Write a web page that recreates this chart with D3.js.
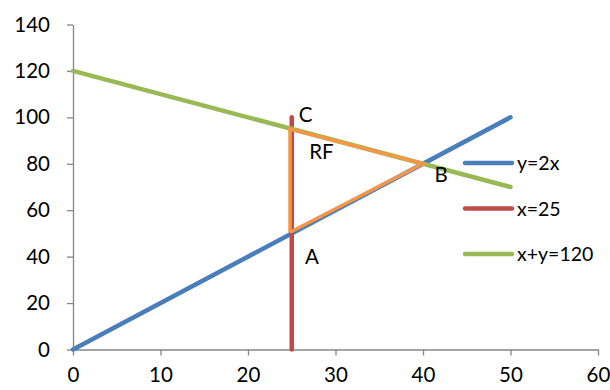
<!DOCTYPE html>
<html><head><meta charset="utf-8">
<script src="https://cdn.jsdelivr.net/npm/d3@7"></script>
<style>body{margin:0;background:#fff}svg{font-family:Lato,"Open Sans",sans-serif}</style>
</head><body><svg width="610" height="390"></svg>
<script>
const xTicks = [0,10,20,30,40,50,60];
const yTicks = [0,20,40,60,80,100,120,140];
const seriesNames = ["y=2x","x=25","x+y=120"];
const seriesColors = ["#4A7EBB","#BE4B48","#98B954"];
const lineY2x = [[0,0],[50,100]];
const lineX25 = [[25,0],[25,100]];
const lineXY120 = [[0,120],[50,70]];
const region = [[24.8,50.5],[40,80],[24.8,95],[24.8,50.5]];
const pointLabels = [{t:"C",x:25.8,y:98},{t:"RF",x:27,y:82},{t:"B",x:41.3,y:72},{t:"A",x:26.5,y:37}];

const svg = d3.select("svg");
const x = d3.scaleLinear().domain([0,60]).range([73,598]);
const y = d3.scaleLinear().domain([0,140]).range([349.5,24.5]);

const ax = svg.append("g").attr("transform","translate(0,349.5)")
  .call(d3.axisBottom(x).tickValues(xTicks).tickSizeInner(6).tickSizeOuter(0).tickPadding(12));
const ay = svg.append("g").attr("transform","translate(73,0)")
  .call(d3.axisLeft(y).tickValues(yTicks).tickSizeInner(6).tickSizeOuter(0).tickPadding(17));
[ax,ay].forEach(g=>{
  g.selectAll("path,line").attr("stroke","#868686").attr("stroke-width",1.3);
  g.selectAll("text").attr("font-size",20.5).attr("fill","#000").attr("font-family","Lato, 'Open Sans', sans-serif");
});

const line = d3.line().x(d=>x(d[0])).y(d=>y(d[1]));
const data = [lineY2x,lineX25,lineXY120];
data.forEach((d,i)=>{
  svg.append("path").attr("d",line(d)).attr("fill","none")
    .attr("stroke",seriesColors[i]).attr("stroke-width",4.5).attr("stroke-linecap","round");
});
svg.append("path").attr("d",line(region)).attr("fill","none")
  .attr("stroke","#F79646").attr("stroke-width",3.5).attr("stroke-linejoin","miter");

pointLabels.forEach(p=>{
  svg.append("text").attr("x",x(p.x)).attr("y",y(p.y)).attr("font-size",20.5).attr("fill","#000").text(p.t);
});

const legend = svg.append("g");
seriesNames.forEach((n,i)=>{
  const yy = 163 + i*45.5;
  legend.append("line").attr("x1",465).attr("x2",512).attr("y1",yy).attr("y2",yy)
    .attr("stroke",seriesColors[i]).attr("stroke-width",4.5).attr("stroke-linecap","round");
  legend.append("text").attr("x",517).attr("y",yy+7).attr("font-size",19.5).attr("fill","#000").text(n);
});
</script></body></html>
